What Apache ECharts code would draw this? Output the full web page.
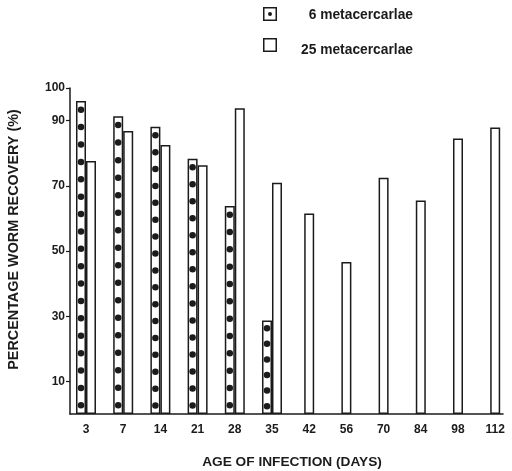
<!DOCTYPE html>
<html>
<head>
<meta charset="utf-8">
<script src="https://cdn.jsdelivr.net/npm/echarts@6/dist/echarts.min.js"></script>
<style>
  html, body { margin: 0; padding: 0; background: #fff; }
  #chart { width: 512px; height: 471px; }
</style>
</head>
<body>
<div id="chart"></div>
<script>
// Age of infection (days) and percentage worm recovery for the two doses
const days = ['3', '7', '14', '21', '28', '35', '42', '56', '70', '84', '98', '112'];
const recovery6 = [96, 91.3, 88.1, 78.3, 63.8, 28.7, null, null, null, null, null, null];
const recovery25 = [77.6, 86.8, 82.5, 76.3, 93.8, 70.9, 61.5, 46.6, 72.5, 65.5, 84.5, 87.9];
const yTickValues = [10, 30, 50, 70, 90, 100];
const seriesNames = ['6 metacercarlae', '25 metacercarlae'];

const ink = '#1b1b1b';
const font = '"Liberation Sans", Arial, Helvetica, sans-serif';

// Days with both doses are drawn as side-by-side pairs; the others stand alone on the day.
const paired6 = [], paired25 = [], single25 = [];
days.forEach((d, i) => {
  if (recovery6[i] != null) {
    paired6.push([i, recovery6[i]]);
    paired25.push([i, recovery25[i]]);
  } else {
    single25.push([i, recovery25[i]]);
  }
});
const dayIndex = days.map((d, i) => i);

// the dots of each bar are spread over that bar's own height
const dotData = paired6.map(p => ({ value: p, symbolBoundingData: p[1] }));

// Legend icons: an outlined square, with a dot for the smaller dose
const boxPath = 'path://M0 0H14V14H0Z M1.5 1.5V12.5H12.5V1.5Z';
const boxDotPath = 'path://M0 0H14V14H0Z M1.5 1.5V12.5H12.5V1.5Z M5 7A2 2 0 1 0 9 7A2 2 0 1 0 5 7Z';

// day positions run along a plain index axis, padded a little at both ends
const xRange = { min: -0.43, max: 11.21 };
const barStyle = { color: '#fff', borderColor: ink, borderWidth: 1.5 };
const legendText = { width: 131, align: 'right', fontFamily: font, fontWeight: 'bold', fontSize: 13.8, color: ink };

const chart = echarts.init(document.getElementById('chart'), null, { renderer: 'canvas' });
chart.setOption({
  backgroundColor: '#fff',
  animation: false,
  textStyle: { fontFamily: font },
  grid: { left: 70, right: 9, top: 88, bottom: 57, containLabel: false, outerBoundsMode: 'none' },
  legend: {
    left: 263, top: 7, orient: 'vertical', padding: 0,
    itemWidth: 14, itemHeight: 14, itemGap: 16,
    selectedMode: false,
    itemStyle: { borderWidth: 0 },
    data: [
      { name: seriesNames[0], icon: boxDotPath, itemStyle: { color: ink, borderWidth: 0 } },
      { name: seriesNames[1], icon: boxPath, itemStyle: { color: ink, borderWidth: 0 } }
    ],
    formatter: n => (n === seriesNames[0] ? '{a|' : '{b|') + n + '}',
    textStyle: {
      rich: {
        a: Object.assign({ padding: [2, 0, 0, 0] }, legendText),
        b: Object.assign({ padding: [10, 0, 0, 0] }, legendText)
      }
    }
  },
  xAxis: [
    {
      type: 'value', ...xRange,
      name: 'AGE OF INFECTION (DAYS)', nameLocation: 'middle', nameGap: 41, nameMoveOverlap: false,
      nameTextStyle: { fontFamily: font, fontWeight: 'bold', fontSize: 13.7, color: ink, padding: [0, 0, 0, 11] },
      axisLine: { show: true, onZero: false, lineStyle: { color: ink, width: 1.5 } },
      axisTick: { show: false },
      splitLine: { show: false },
      axisLabel: {
        customValues: dayIndex,
        formatter: v => days[Math.round(v)],
        margin: 10, fontFamily: font, fontWeight: 'bold', fontSize: 12, color: ink
      }
    },
    {
      type: 'value', ...xRange, show: false, splitLine: { show: false }
    }
  ],
  yAxis: {
    type: 'value', min: 0, max: 100,
    name: 'PERCENTAGE WORM RECOVERY (%)', nameLocation: 'middle', nameRotate: 90,
    nameGap: 49, nameMoveOverlap: false,
    nameTextStyle: { fontFamily: font, fontWeight: 'bold', fontSize: 14.4, color: ink, padding: [0, 0, 0, 23] },
    axisLine: { show: true, onZero: false, lineStyle: { color: ink, width: 1.5 } },
    axisTick: { show: true, customValues: yTickValues, length: 4, lineStyle: { color: ink, width: 1.2 } },
    splitLine: { show: false },
    axisLabel: {
      customValues: yTickValues,
      margin: 5, fontFamily: font, fontWeight: 'bold', fontSize: 12, color: ink,
      padding: [0, 0, 8, 0]
    }
  },
  series: [
    {
      name: seriesNames[0], type: 'bar', xAxisIndex: 0,
      data: paired6, barWidth: 10, barGap: 0, itemStyle: barStyle
    },
    {
      name: seriesNames[1], type: 'bar', xAxisIndex: 0,
      data: paired25, barWidth: 10, barGap: 0, itemStyle: barStyle
    },
    {
      name: seriesNames[1], type: 'bar', xAxisIndex: 1,
      data: single25, barWidth: 10, itemStyle: barStyle
    },
    {
      // column of dots inside each bar of the smaller dose
      name: 'dots', type: 'pictorialBar', xAxisIndex: 0,
      data: dotData, barWidth: 10,
      symbol: 'circle', symbolSize: [6.5, 6.5],
      symbolRepeat: true, symbolMargin: '5.65!',
      symbolOffset: [-5, 0],
      itemStyle: { color: ink },
      silent: true, z: 5
    }
  ]
});
</script>
</body>
</html>
